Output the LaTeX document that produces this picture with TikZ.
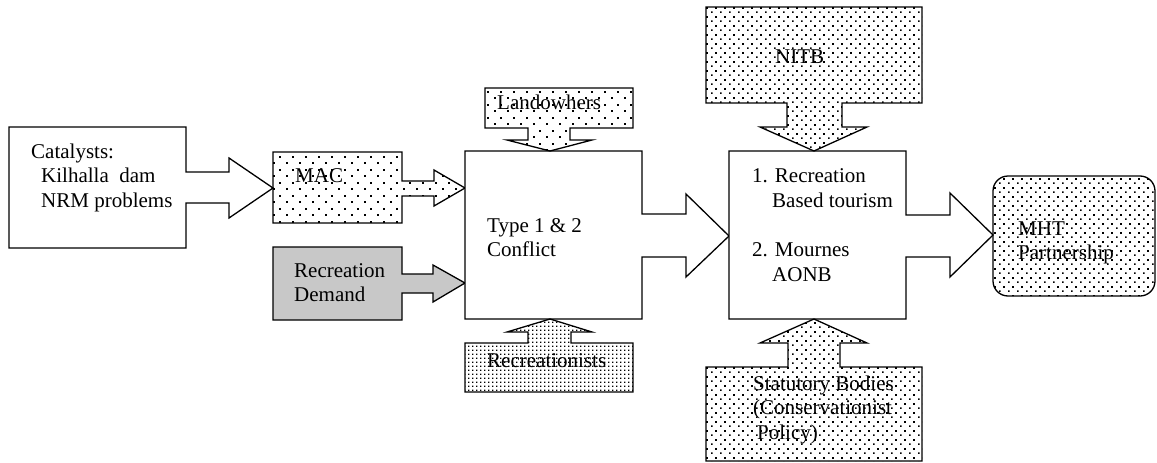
\documentclass[tikz,border=0pt]{standalone}
\usepackage{fontspec}
\setmainfont{Liberation Serif}
\usetikzlibrary{patterns.meta}
\tikzdeclarepattern{
  name=dotsSparse, type=uncolored,
  bounding box={(0pt,0pt) and (13pt,13pt)},
  tile size={(13pt,13pt)},
  code={\fill (0pt,0pt) rectangle (2pt,2pt); \fill (6.5pt,6.5pt) rectangle (8.5pt,8.5pt);}
}
\tikzdeclarepattern{
  name=dotsMid, type=uncolored,
  bounding box={(0pt,0pt) and (9pt,9pt)},
  tile size={(9pt,9pt)},
  code={\fill (0pt,0pt) rectangle (1.9pt,1.9pt); \fill (4.5pt,4.5pt) rectangle (6.4pt,6.4pt);}
}
\tikzdeclarepattern{
  name=dotsDense, type=uncolored,
  bounding box={(0pt,0pt) and (4pt,4pt)},
  tile size={(4pt,4pt)},
  code={\fill (0pt,0pt) rectangle (1.8pt,1.8pt);}
}
\definecolor{demandgray}{RGB}{200,200,200}
\begin{document}
\begin{tikzpicture}[x=1pt,y=-1pt,
  shapeline/.style={draw=black,line width=1.3pt,line join=miter},
  sparse/.style={shapeline,pattern=dotsSparse},
  mid/.style={shapeline,pattern=dotsMid},
  dense/.style={shapeline,pattern=dotsDense},
  lbl/.style={anchor=base west,inner sep=0pt,align=left,
    font=\fontsize{21pt}{24.5pt}\selectfont}]
\useasboundingbox (0,0) rectangle (1157,463);
% Catalysts callout
\draw[shapeline,fill=white] (9,127) -- (186,127) -- (186,172) -- (229,172) -- (229,158) -- (273,188)
  -- (229,218) -- (229,203) -- (186,203) -- (186,248) -- (9,248) -- cycle;
% MAC callout
\draw[sparse] (273,152) -- (402,152) -- (402,181) -- (434,181) -- (434,170) -- (465,188)
  -- (434,206) -- (434,196) -- (402,196) -- (402,223) -- (273,223) -- cycle;
% Recreation Demand callout
\draw[shapeline,fill=demandgray] (273,247) -- (402,247) -- (402,274) -- (433,274) -- (433,265) -- (465,283)
  -- (433,302) -- (433,293) -- (402,293) -- (402,320) -- (273,320) -- cycle;
% Conflict callout
\draw[shapeline,fill=white] (465,151) -- (642,151) -- (642,214) -- (686,214) -- (686,194) -- (729,236)
  -- (686,277) -- (686,257) -- (642,257) -- (642,319) -- (465,319) -- cycle;
% Landowners callout
\draw[sparse] (485,88) -- (633,88) -- (633,128) -- (570,128) -- (570,140) -- (592,140) -- (550,151)
  -- (507,140) -- (528,140) -- (528,128) -- (485,128) -- cycle;
% Recreationists callout
\draw[dense] (465,392) -- (633,392) -- (633,343) -- (571,343) -- (571,332) -- (592,332) -- (550,319)
  -- (507,332) -- (528,332) -- (528,343) -- (465,343) -- cycle;
% Recreation tourism callout
\draw[shapeline,fill=white] (729,151) -- (906,151) -- (906,215) -- (950,215) -- (950,193) -- (993,235)
  -- (950,277) -- (950,257) -- (906,257) -- (906,319) -- (729,319) -- cycle;
% NITB callout
\draw[mid] (706,7) -- (922,7) -- (922,103) -- (842,103) -- (842,127) -- (867,127) -- (814,151)
  -- (760,127) -- (787,127) -- (787,103) -- (706,103) -- cycle;
% Statutory bodies callout
\draw[mid] (706,461) -- (922,461) -- (922,367) -- (840,367) -- (840,343) -- (867,343) -- (814,319)
  -- (760,343) -- (788,343) -- (788,367) -- (706,367) -- cycle;
% MHT partnership
\draw[mid,rounded corners=15pt] (993,176) rectangle (1155,296);
% texts (anchor = baseline of the last line)
\node[lbl] (cat) at (31,207) {Catalysts:\\\hspace*{10pt}Kilhalla\ \ dam\\\hspace*{10pt}NRM problems};
\node[lbl] (mac) at (295,182) {MAC};
\node[lbl] (demand) at (294,301.5) {Recreation\\Demand};
\node[lbl] (conflict) at (487,256.5) {Type 1 \& 2\\Conflict};
\node[lbl] (land) at (497,109) {Landowhers};
\node[lbl] (recr) at (487,367) {Recreationists};
\node[lbl] (rec) at (752,281) {1. Recreation\\\hspace*{20pt}Based tourism\\[25pt]2. Mournes\\\hspace*{20pt}AONB};
\node[lbl] (nitb) at (775,63) {NITB};
\node[lbl] (stat) at (753,439) {Statutory Bodies\\(Conservationist\\\hspace*{4pt}Policy)};
\node[lbl] (mht) at (1018,259.5) {MHT\\Partnership};
\end{tikzpicture}
\end{document}
